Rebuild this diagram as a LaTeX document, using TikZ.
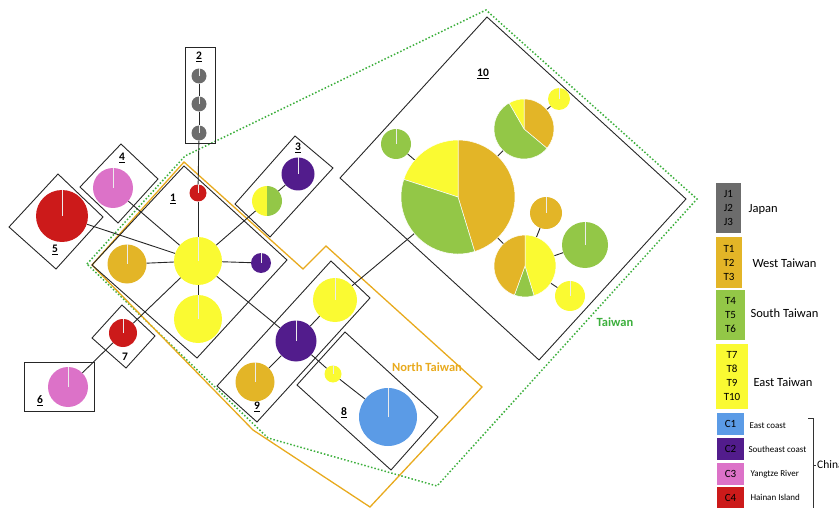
\documentclass[tikz,border=0pt]{standalone}
\usepackage{fontspec}
\setmainfont{Carlito}
\definecolor{hgold}{RGB}{227,181,39}
\definecolor{hyel}{RGB}{250,250,50}
\definecolor{hgreen}{RGB}{147,199,71}
\definecolor{hpurple}{RGB}{82,28,140}
\definecolor{hred}{RGB}{204,26,26}
\definecolor{hpink}{RGB}{220,114,200}
\definecolor{hblue}{RGB}{91,155,230}
\definecolor{hgrey}{RGB}{108,108,108}
\definecolor{northline}{RGB}{232,170,30}
\definecolor{taiwanline}{RGB}{60,175,60}
\begin{document}
\begin{tikzpicture}[x=1pt, y=-1pt,
    hap/.style={circle, inner sep=0pt, minimum size=#1},
    boxline/.style={draw=black!85, line width=0.9pt},
    link/.style={draw=black!85, line width=0.9pt},
    slice/.style={draw=white, line width=0.5pt},
    boxnum/.style={font=\fontsize{11.5}{12}\selectfont\bfseries},
    legbox/.style={rectangle, inner sep=0pt, align=center, font=\fontsize{11}{14}\selectfont},
    legtext/.style={anchor=west, font=\fontsize{12.5}{14}\selectfont},
    legsmall/.style={anchor=west, font=\fontsize{9}{10}\selectfont}]
    \useasboundingbox (0,0) rectangle (839,508);

    % region outlines
    \draw[taiwanline, dotted, line width=1.5pt] (87,264) -- (185,156) -- (486,10) -- (697,199) -- (437,486) -- (268,438) -- cycle;
    \draw[northline, line width=1.3pt] (184,162) -- (303,269) -- (326,246) -- (482,387) -- (370,507) -- (253,430) -- (92,265) -- cycle;
    \node[northline, font=\fontsize{12.5}{13}\selectfont\bfseries] (northlab) at (427,367) {North Taiwan};
    \node[taiwanline, font=\fontsize{12.5}{13}\selectfont\bfseries] (taiwanlab) at (615,322) {Taiwan};

    % groups
    \draw[boxline] (184,166) -- (287,260) -- (197,358) -- (92,265) -- cycle;
    \draw[boxline] (185,47) rectangle (215,143);
    \draw[boxline] (295,136) -- (333,168) -- (270,237) -- (235,204) -- cycle;
    \draw[boxline] (121,144) -- (158,179) -- (118,223) -- (80,187) -- cycle;
    \draw[boxline] (58,174) -- (103,217) -- (56,269) -- (9,227) -- cycle;
    \draw[boxline] (24,362) rectangle (94,411);
    \draw[boxline] (122,305) -- (155,336) -- (126,368) -- (92,338) -- cycle;
    \draw[boxline] (345,332) -- (438,417) -- (391,470) -- (297,385) -- cycle;
    \draw[boxline] (331,261) -- (370,298) -- (257,422) -- (217,386) -- cycle;
    \draw[boxline] (487,17) -- (686,199) -- (539,360) -- (340,178) -- cycle;

    \node[boxnum] (g1) at (173,199) {\underline{1}};
    \node[boxnum] (g2) at (199,57) {\underline{2}};
    \node[boxnum] (g3) at (298,148) {\underline{3}};
    \node[boxnum] (g4) at (122,158) {\underline{4}};
    \node[boxnum] (g5) at (55,250) {\underline{5}};
    \node[boxnum] (g6) at (40,401) {\underline{6}};
    \node[boxnum] (g7) at (125,357) {7};
    \node[boxnum] (g8) at (344,413) {\underline{8}};
    \node[boxnum] (g9) at (257,407) {\underline{9}};
    \node[boxnum] (g10) at (483,74) {\underline{10}};

    % haplotypes
    \node[hap=15, fill=hgrey] (j1) at (199,76) {};
    \node[hap=15, fill=hgrey] (j2) at (199,104) {};
    \node[hap=15, fill=hgrey] (j3) at (199,133) {};
    \node[hap=48, fill=hyel] (h1) at (198,261) {};
    \node[hap=17, fill=hred] (h1a) at (198,193) {};
    \node[hap=39, fill=hgold] (h1b) at (127,264) {};
    \node[hap=20, fill=hpurple] (h1c) at (261,263) {};
    \node[hap=48, fill=hyel] (h1d) at (198,319) {};
    \node[hap=30] (h3a) at (267,201) {};
    \node[hap=33, fill=hpurple] (h3b) at (298,174) {};
    \node[hap=40, fill=hpink] (h4) at (113,188) {};
    \node[hap=52, fill=hred] (h5) at (62,216) {};
    \node[hap=40, fill=hpink] (h6) at (68,387) {};
    \node[hap=28, fill=hred] (h7) at (123,333) {};
    \node[hap=44, fill=hyel] (h9a) at (335,300) {};
    \node[hap=41, fill=hpurple] (h9b) at (296,341) {};
    \node[hap=39, fill=hgold] (h9c) at (255,382) {};
    \node[hap=17, fill=hyel] (h8a) at (333,374) {};
    \node[hap=58, fill=hblue] (h8b) at (388,417) {};
    \node[hap=114] (p10) at (458,197) {};
    \node[hap=30, fill=hgreen] (h10a) at (396,144) {};
    \node[hap=60] (p10b) at (524,129) {};
    \node[hap=22, fill=hyel] (h10b) at (559,99) {};
    \node[hap=62] (p10c) at (525,266) {};
    \node[hap=32, fill=hgold] (h10c) at (546,213) {};
    \node[hap=46, fill=hgreen] (h10d) at (585,245) {};
    \node[hap=30, fill=hyel] (h10e) at (570,296) {};

    % pies
    \fill[hyel] (h3a.center) -- ++(90:15) arc[start angle=90, end angle=270, radius=15] -- cycle;
    \fill[hgreen] (h3a.center) -- ++(-90:15) arc[start angle=-90, end angle=90, radius=15] -- cycle;
    \filldraw[slice, fill=hgold] (p10.center) -- ++(-90:57) arc[start angle=-90, end angle=73, radius=57] -- cycle;
    \filldraw[slice, fill=hyel] (p10.center) -- ++(-162:57) arc[start angle=-162, end angle=-90, radius=57] -- cycle;
    \filldraw[slice, fill=hgreen] (p10.center) -- ++(73:57) arc[start angle=73, end angle=198, radius=57] -- cycle;
    \filldraw[slice, fill=hgold] (p10b.center) -- ++(-90:30) arc[start angle=-90, end angle=40, radius=30] -- cycle;
    \filldraw[slice, fill=hyel] (p10b.center) -- ++(-120:30) arc[start angle=-120, end angle=-90, radius=30] -- cycle;
    \filldraw[slice, fill=hgreen] (p10b.center) -- ++(40:30) arc[start angle=40, end angle=240, radius=30] -- cycle;
    \filldraw[slice, fill=hyel] (p10c.center) -- ++(-90:31) arc[start angle=-90, end angle=73, radius=31] -- cycle;
    \filldraw[slice, fill=hgreen] (p10c.center) -- ++(73:31) arc[start angle=73, end angle=110, radius=31] -- cycle;
    \filldraw[slice, fill=hgold] (p10c.center) -- ++(110:31) arc[start angle=110, end angle=270, radius=31] -- cycle;
    \foreach \n in {j1,j2,j3,h1,h1a,h1b,h1c,h1d,h3b,h4,h5,h6,h7,h9a,h9b,h9c,h8a,h8b,h10a,h10b,h10c,h10d,h10e}
        \draw[white!85!gray, line width=0.4pt] (\n.center) -- (\n.north);

    % mutational links
    \draw[link] (j1) -- (j2);
    \draw[link] (j2) -- (j3);
    \draw[link] (j3) -- (h1a);
    \draw[link] (h1a) -- (h1);
    \foreach \n in {h1b,h1c,h1d,h3a,h4,h5,h7,h9b}
        \draw[link] (h1) -- (\n);
    \draw[link] (h3a) -- (h3b);
    \draw[link] (h7) -- (h6);
    \draw[link] (h9a) -- (h9b);
    \draw[link] (h9b) -- (h9c);
    \draw[link] (h9b) -- (h8a);
    \draw[link] (h8a) -- (h8b);
    \draw[link] (h9a) -- (p10);
    \draw[link] (p10) -- (h10a);
    \draw[link] (p10) -- (p10b);
    \draw[link] (p10) -- (p10c);
    \draw[link] (p10b) -- (h10b);
    \draw[link] (p10c) -- (h10c);
    \draw[link] (p10c) -- (h10d);
    \draw[link] (p10c) -- (h10e);

    % legend
    \node[legbox, fill=hgrey, minimum width=25, minimum height=50] (legj) at (728.5,208) {J1\\J2\\J3};
    \node[legbox, fill=hgold, minimum width=26, minimum height=51] (legw) at (729,262.5) {T1\\T2\\T3};
    \node[legbox, fill=hgreen, minimum width=29, minimum height=50] (legs) at (730.5,315) {T4\\T5\\T6};
    \node[legbox, fill=hyel, minimum width=32, minimum height=65] (lege) at (732,376.5) {T7\\T8\\T9\\T10};
    \node[legbox, fill=hblue, minimum width=27, minimum height=22] (legc1) at (730.5,424) {C1};
    \node[legbox, fill=hpurple, minimum width=27, minimum height=22] (legc2) at (730.5,449) {C2};
    \node[legbox, fill=hpink, minimum width=27, minimum height=22] (legc3) at (730.5,474) {C3};
    \node[legbox, fill=hred, minimum width=27, minimum height=22] (legc4) at (730.5,498) {C4};
    \node[legtext] at (745,209) {Japan};
    \node[legtext] at (749,263) {West Taiwan};
    \node[legtext] at (747,313) {South Taiwan};
    \node[legtext] at (750,382) {East Taiwan};
    \node[legsmall] at (746,426) {East coast};
    \node[legsmall] at (745,449) {Southeast coast};
    \node[legsmall] at (747,474) {Yangtze River};
    \node[legsmall] at (747,497) {Hainan Island};
    \draw[black!80, line width=0.6pt] (808,418) -- (813,418) -- (813,510);
    \draw[black!80, line width=0.6pt] (813,465) -- (816,465);
    \node[anchor=west, inner sep=1pt, font=\fontsize{11.5}{12}\selectfont] (china) at (816,465) {China};
\end{tikzpicture}
\end{document}
